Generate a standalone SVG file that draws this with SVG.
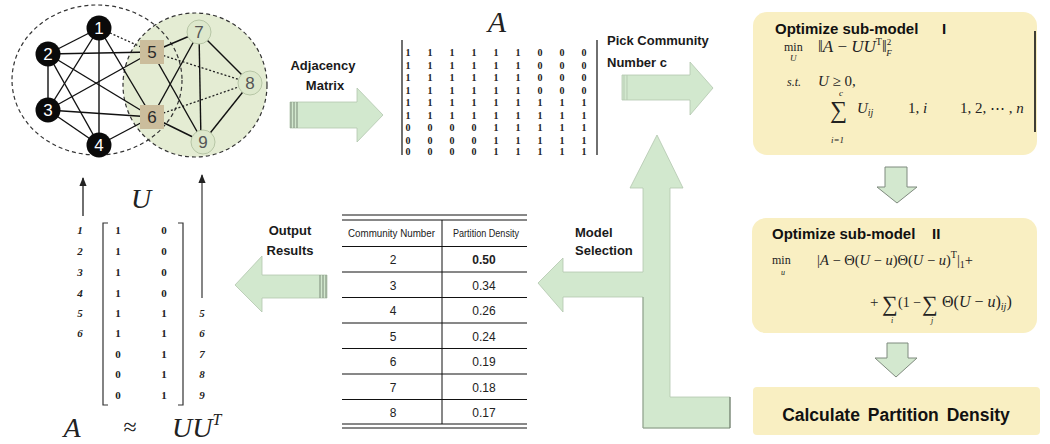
<svg xmlns="http://www.w3.org/2000/svg" width="1050" height="444" viewBox="0 0 1050 444">
<style>
.lbl{font-family:"Liberation Sans",Arial,sans-serif;font-weight:bold;font-size:13px;fill:#1a1a1a}
.ttl{font-family:"Liberation Sans",Arial,sans-serif;font-weight:bold;font-size:15px;fill:#111}
.m{font-family:"Liberation Serif","Times New Roman",serif;fill:#222}
.i{font-style:italic}
.edge{stroke:#111;stroke-width:1.4;fill:none}
.dot{stroke:#222;stroke-width:1.3;stroke-dasharray:2 2;fill:none}
.arr{fill:#d2e8ce;stroke:#b3c7ae;stroke-width:0.8}
.darr{fill:#d3e8cf;stroke:#7f8a7e;stroke-width:1}
.box{fill:#f9efc2}
.tl{stroke:#111;stroke-width:1}
.tx{font-family:"Liberation Sans",Arial,sans-serif;fill:#222}
.nb{fill:#0a0a0a}
.nbt{font-family:"Liberation Sans",Arial,sans-serif;font-size:17px;fill:#fff;text-anchor:middle}
.ns{fill:#cbbd9c}
.nst{font-family:"Liberation Sans",Arial,sans-serif;font-size:17px;fill:#2a2a2a;text-anchor:middle}
.ng{fill:#dde8cc;stroke:#b7c6a6;stroke-width:1}
.ngt{font-family:"Liberation Sans",Arial,sans-serif;font-size:17px;fill:#555;text-anchor:middle}
.ma{font-family:"Liberation Serif","Times New Roman",serif;font-size:10px;font-weight:bold;fill:#222;text-anchor:middle}
.mu{font-family:"Liberation Serif","Times New Roman",serif;font-size:11px;font-weight:bold;fill:#222;text-anchor:middle}
.mul{font-family:"Liberation Serif","Times New Roman",serif;font-size:11px;font-weight:bold;font-style:italic;fill:#222;text-anchor:middle}
.stripe{stroke:#7a8a78;stroke-width:1}
</style>
<defs>
<marker id="ah" viewBox="0 0 10 10" refX="9" refY="5" markerWidth="7" markerHeight="7" orient="auto">
<path d="M0,1 L10,5 L0,9 z" fill="#222"/>
</marker>
</defs>
<rect width="1050" height="444" fill="#fff"/>

<!-- community circles -->
<g id="communities">
<circle cx="195" cy="85" r="72" fill="#e4ecd3"/>
<ellipse cx="97" cy="80" rx="85" ry="75" fill="none" stroke="#333" stroke-width="1.2" stroke-dasharray="4 3"/>
<circle cx="195" cy="85" r="72" fill="none" stroke="#333" stroke-width="1.2" stroke-dasharray="4 3"/>
</g>

<g id="connectors">
<!-- graph edges -->
<line class="edge" x1="99" y1="28" x2="48" y2="54"/>
<line class="edge" x1="99" y1="28" x2="48" y2="110"/>
<line class="edge" x1="99" y1="28" x2="99" y2="145"/>
<line class="dot" x1="99" y1="28" x2="152" y2="52"/>
<line class="edge" x1="99" y1="28" x2="152" y2="117"/>
<line class="edge" x1="48" y1="54" x2="48" y2="110"/>
<line class="edge" x1="48" y1="54" x2="99" y2="145"/>
<line class="edge" x1="48" y1="54" x2="152" y2="52"/>
<line class="edge" x1="48" y1="54" x2="152" y2="117"/>
<line class="edge" x1="48" y1="110" x2="99" y2="145"/>
<line class="edge" x1="48" y1="110" x2="152" y2="52"/>
<line class="edge" x1="48" y1="110" x2="152" y2="117"/>
<line class="edge" x1="99" y1="145" x2="152" y2="117"/>
<line class="edge" x1="152" y1="52" x2="199" y2="32"/>
<line class="dot" x1="152" y1="52" x2="250" y2="83"/>
<line class="edge" x1="152" y1="52" x2="203" y2="142"/>
<line class="edge" x1="152" y1="117" x2="199" y2="32"/>
<line class="dot" x1="152" y1="117" x2="250" y2="83"/>
<line class="edge" x1="152" y1="117" x2="203" y2="142"/>
<line class="edge" x1="199" y1="32" x2="250" y2="83"/>
<line class="edge" x1="199" y1="32" x2="201" y2="142"/>
<line class="edge" x1="250" y1="83" x2="203" y2="142"/>

<!-- U arrows -->
<line x1="83" y1="216" x2="83" y2="178" stroke="#222" stroke-width="1.3" marker-end="url(#ah)"/>
<line x1="202" y1="298" x2="202" y2="175" stroke="#444" stroke-width="1.3" marker-end="url(#ah)"/>

<!-- Adjacency Matrix arrow -->
<polygon class="arr" points="290,102 357,102 357,88 383,115 357,142 357,128 290,128"/>
<line class="stripe" x1="291" y1="102" x2="291" y2="128"/>
<line class="stripe" x1="294" y1="102" x2="294" y2="128"/>
<line class="stripe" x1="297" y1="102" x2="297" y2="128"/>

<!-- Pick community arrow -->
<polygon class="arr" points="622,75 690,75 690,62 713,88 690,115 690,100 622,100"/>
<line x1="624" y1="75" x2="624" y2="100" stroke="#b7cbb3" stroke-width="1"/>
<line x1="627" y1="75" x2="627" y2="100" stroke="#b7cbb3" stroke-width="1"/>

<!-- Model selection + loop arrow -->
<polygon class="arr" points="538,283 563,258 563,272 643,272 643,188 630,188 657,135 683,188 670,188 670,397 730,397 730,428 643,428 643,297 563,297 563,312"/>
<line x1="643" y1="297" x2="643" y2="428" stroke="#8e9e8b" stroke-width="1"/>
<line x1="643" y1="428" x2="730" y2="428" stroke="#8e9e8b" stroke-width="1"/>
<line x1="730" y1="397" x2="730" y2="428" stroke="#5e6a5c" stroke-width="1"/>

<!-- Output results arrow -->
<polygon class="arr" points="235,285 262,256 262,275 327,275 327,298 262,298 262,312"/>
<line class="stripe" x1="320" y1="275" x2="320" y2="298"/>
<line class="stripe" x1="323" y1="275" x2="323" y2="298"/>
<line class="stripe" x1="326" y1="275" x2="326" y2="298"/>

<!-- down arrows -->
<polygon class="darr" points="885,167 907,167 907,187 917,187 897,203 877,187 885,187"/>
<polygon class="darr" points="887,343 908,343 908,358 917,358 896,377 875,358 887,358"/>
</g>

<!-- graph nodes -->
<g id="n1"><circle class="nb" cx="99" cy="28" r="12.5"/><text class="nbt" x="99" y="34">1</text></g>
<g id="n2"><circle class="nb" cx="48" cy="54" r="12.5"/><text class="nbt" x="48" y="60">2</text></g>
<g id="n3"><circle class="nb" cx="48" cy="110" r="12.5"/><text class="nbt" x="48" y="116">3</text></g>
<g id="n4"><circle class="nb" cx="99" cy="145" r="12.5"/><text class="nbt" x="99" y="151">4</text></g>
<g id="n5"><rect class="ns" x="140" y="40" width="24" height="24"/><text class="nst" x="152" y="58">5</text></g>
<g id="n6"><rect class="ns" x="140" y="105" width="24" height="24"/><text class="nst" x="152" y="123">6</text></g>
<g id="n7"><circle class="ng" cx="199" cy="32" r="12"/><text class="ngt" x="199" y="38">7</text></g>
<g id="n8"><circle class="ng" cx="250" cy="83" r="12"/><text class="ngt" x="250" y="89">8</text></g>
<g id="n9"><circle class="ng" cx="203" cy="142" r="12"/><text class="ngt" x="203" y="148">9</text></g>

<!-- arrow labels -->
<g id="lbl-adj">
<text class="lbl" x="323" y="70" text-anchor="middle">Adjacency</text>
<text class="lbl" x="325" y="90" text-anchor="middle">Matrix</text>
</g>
<g id="lbl-pick">
<text class="lbl" x="607" y="45">Pick Community</text>
<text class="lbl" x="607" y="67">Number c</text>
</g>
<g id="lbl-model">
<text class="lbl" x="575" y="237">Model</text>
<text class="lbl" x="575" y="255">Selection</text>
</g>
<g id="lbl-output">
<text class="lbl" x="290" y="235" text-anchor="middle">Output</text>
<text class="lbl" x="290" y="255" text-anchor="middle">Results</text>
</g>

<!-- adjacency matrix A -->
<g id="matrixA">
<text class="m i" x="497" y="32" font-size="30" text-anchor="middle">A</text>
<line x1="402" y1="40" x2="402" y2="155" stroke="#222" stroke-width="1.3"/>
<line x1="597" y1="40" x2="597" y2="155" stroke="#222" stroke-width="1.3"/>
<g class="ma">
<text y="56"><tspan x="408">1</tspan><tspan x="430">1</tspan><tspan x="452">1</tspan><tspan x="474">1</tspan><tspan x="496">1</tspan><tspan x="518">1</tspan><tspan x="540">0</tspan><tspan x="562">0</tspan><tspan x="584">0</tspan></text>
<text y="68.5"><tspan x="408">1</tspan><tspan x="430">1</tspan><tspan x="452">1</tspan><tspan x="474">1</tspan><tspan x="496">1</tspan><tspan x="518">1</tspan><tspan x="540">0</tspan><tspan x="562">0</tspan><tspan x="584">0</tspan></text>
<text y="81"><tspan x="408">1</tspan><tspan x="430">1</tspan><tspan x="452">1</tspan><tspan x="474">1</tspan><tspan x="496">1</tspan><tspan x="518">1</tspan><tspan x="540">0</tspan><tspan x="562">0</tspan><tspan x="584">0</tspan></text>
<text y="93.5"><tspan x="408">1</tspan><tspan x="430">1</tspan><tspan x="452">1</tspan><tspan x="474">1</tspan><tspan x="496">1</tspan><tspan x="518">1</tspan><tspan x="540">0</tspan><tspan x="562">0</tspan><tspan x="584">0</tspan></text>
<text y="106"><tspan x="408">1</tspan><tspan x="430">1</tspan><tspan x="452">1</tspan><tspan x="474">1</tspan><tspan x="496">1</tspan><tspan x="518">1</tspan><tspan x="540">1</tspan><tspan x="562">1</tspan><tspan x="584">1</tspan></text>
<text y="118.5"><tspan x="408">1</tspan><tspan x="430">1</tspan><tspan x="452">1</tspan><tspan x="474">1</tspan><tspan x="496">1</tspan><tspan x="518">1</tspan><tspan x="540">1</tspan><tspan x="562">1</tspan><tspan x="584">1</tspan></text>
<text y="131"><tspan x="408">0</tspan><tspan x="430">0</tspan><tspan x="452">0</tspan><tspan x="474">0</tspan><tspan x="496">1</tspan><tspan x="518">1</tspan><tspan x="540">1</tspan><tspan x="562">1</tspan><tspan x="584">1</tspan></text>
<text y="143.5"><tspan x="408">0</tspan><tspan x="430">0</tspan><tspan x="452">0</tspan><tspan x="474">0</tspan><tspan x="496">1</tspan><tspan x="518">1</tspan><tspan x="540">1</tspan><tspan x="562">1</tspan><tspan x="584">1</tspan></text>
<text y="155"><tspan x="408">0</tspan><tspan x="430">0</tspan><tspan x="452">0</tspan><tspan x="474">0</tspan><tspan x="496">1</tspan><tspan x="518">1</tspan><tspan x="540">1</tspan><tspan x="562">1</tspan><tspan x="584">1</tspan></text>
</g>
</g>

<!-- sub-model I -->
<g id="submodel1">
<rect class="box" x="753" y="12" width="284" height="143" rx="14"/>
<line x1="1035" y1="31" x2="1035" y2="132" stroke="#111" stroke-width="1.6"/>
<text class="ttl" x="775" y="34">Optimize sub-model</text>
<text class="ttl" x="942" y="34">I</text>
<text class="m" x="784" y="51" font-size="12">min</text>
<text class="m i" x="790" y="61" font-size="9">U</text>
<text class="m" x="818" y="52" font-size="17">‖<tspan class="i">A</tspan> − <tspan class="i">UU</tspan><tspan font-size="10" dy="-7">T</tspan><tspan dy="7">‖</tspan><tspan font-size="9" dy="-7">2</tspan><tspan font-size="9" dx="-5" dy="11" class="i">F</tspan></text>
<text class="m i" x="787" y="86" font-size="12">s.t.</text>
<text class="m" x="818" y="86" font-size="15"><tspan class="i">U</tspan> ≥ 0,</text>
<text class="m" x="830" y="118" font-size="24">∑</text>
<text class="m i" x="839" y="96" font-size="9">c</text>
<text class="m i" x="831" y="143" font-size="9">i=1</text>
<text class="m" x="857" y="113" font-size="15"><tspan class="i">U</tspan><tspan class="i" font-size="10" dy="3">ij</tspan></text>
<text class="m" x="908" y="113" font-size="15">1, <tspan class="i">i</tspan></text>
<text class="m" x="960" y="113" font-size="15">1, 2, ⋯ , <tspan class="i">n</tspan></text>
</g>

<!-- sub-model II -->
<g id="submodel2">
<rect class="box" x="752" y="218" width="285" height="115" rx="14"/>
<text class="ttl" x="772" y="239">Optimize sub-model</text>
<text class="ttl" x="932" y="239">II</text>
<text class="m" x="772" y="264" font-size="12">min</text>
<text class="m i" x="781" y="275" font-size="8">u</text>
<text class="m" x="817" y="265" font-size="14.5">|<tspan class="i">A</tspan> − Θ(<tspan class="i">U</tspan> − <tspan class="i">u</tspan>)Θ(<tspan class="i">U</tspan> − <tspan class="i">u</tspan>)<tspan font-size="10" dy="-7">T</tspan><tspan dy="7">|</tspan><tspan font-size="10" dy="3">1</tspan><tspan dy="-3">+</tspan></text>
<text class="m" x="870" y="307" font-size="15">+</text>
<text class="m" x="882" y="311" font-size="22">∑</text>
<text class="m i" x="891" y="323" font-size="8">i</text>
<text class="m" x="898" y="307" font-size="14">(1 −</text>
<text class="m" x="922" y="311" font-size="22">∑</text>
<text class="m i" x="931" y="323" font-size="8">j</text>
<text class="m" x="942" y="307" font-size="16">Θ(<tspan class="i">U</tspan> − <tspan class="i">u</tspan>)<tspan class="i" font-size="10" dy="3">ij</tspan><tspan dy="-3">)</tspan></text>
</g>

<!-- calculate partition density -->
<g id="calc">
<rect class="box" x="753" y="387" width="287" height="48" rx="4"/>
<text class="ttl" x="896" y="421" text-anchor="middle" style="font-size:17.5px" word-spacing="3">Calculate Partition Density</text>
</g>

<!-- table -->
<g id="table">
<line class="tl" x1="342" y1="215" x2="527" y2="215" stroke-width="2.2"/>
<line class="tl" x1="342" y1="220" x2="527" y2="220"/>
<line class="tl" x1="342" y1="246.5" x2="527" y2="246.5"/>
<line class="tl" x1="342" y1="272" x2="527" y2="272"/>
<line class="tl" x1="342" y1="297.5" x2="527" y2="297.5"/>
<line class="tl" x1="342" y1="323" x2="527" y2="323"/>
<line class="tl" x1="342" y1="348.5" x2="527" y2="348.5"/>
<line class="tl" x1="342" y1="374" x2="527" y2="374"/>
<line class="tl" x1="342" y1="399.5" x2="527" y2="399.5"/>
<line class="tl" x1="342" y1="424" x2="527" y2="424"/>
<line class="tl" x1="342" y1="428" x2="527" y2="428" stroke-width="2.2"/>
<line class="tl" x1="442" y1="220" x2="442" y2="424" stroke-width="1.3"/>
<text class="tx" x="348" y="237" font-size="10" textLength="87" lengthAdjust="spacingAndGlyphs">Community Number</text>
<text class="tx" x="453" y="237" font-size="10" textLength="66" lengthAdjust="spacingAndGlyphs">Partition Density</text>
<g class="tx" font-size="12" text-anchor="middle">
<text x="393" y="264">2</text><text x="484" y="264" font-weight="bold">0.50</text>
<text x="393" y="289.5">3</text><text x="484" y="289.5">0.34</text>
<text x="393" y="315">4</text><text x="484" y="315">0.26</text>
<text x="393" y="340.5">5</text><text x="484" y="340.5">0.24</text>
<text x="393" y="366">6</text><text x="484" y="366">0.19</text>
<text x="393" y="391.5">7</text><text x="484" y="391.5">0.18</text>
<text x="393" y="417">8</text><text x="484" y="417">0.17</text>
</g>
</g>

<!-- U matrix -->
<g id="matrixU">
<text class="m i" x="141" y="208" font-size="28" text-anchor="middle">U</text>
<path d="M108,223 H103 V405 H108" fill="none" stroke="#333" stroke-width="1.2"/>
<path d="M178,223 H183 V405 H178" fill="none" stroke="#333" stroke-width="1.2"/>
<g class="mul">
<text x="80" y="234">1</text><text x="80" y="255">2</text><text x="80" y="276">3</text><text x="80" y="297">4</text><text x="80" y="317">5</text><text x="80" y="337">6</text>
<text x="202" y="317">5</text><text x="202" y="337">6</text><text x="202" y="358">7</text><text x="202" y="378">8</text><text x="202" y="399">9</text>
</g>
<g class="mu">
<text x="118" y="234">1</text><text x="164" y="234">0</text>
<text x="118" y="255">1</text><text x="164" y="255">0</text>
<text x="118" y="276">1</text><text x="164" y="276">0</text>
<text x="118" y="297">1</text><text x="164" y="297">0</text>
<text x="118" y="317">1</text><text x="164" y="317">1</text>
<text x="118" y="337">1</text><text x="164" y="337">1</text>
<text x="118" y="358">0</text><text x="164" y="358">1</text>
<text x="118" y="378">0</text><text x="164" y="378">1</text>
<text x="118" y="399">0</text><text x="164" y="399">1</text>
</g>
<text class="m i" x="72" y="437" font-size="28" text-anchor="middle">A</text>
<text class="m" x="130" y="435" font-size="24" text-anchor="middle">≈</text>
<text class="m i" x="172" y="437" font-size="28">UU<tspan font-size="16" dy="-12">T</tspan></text>
</g>
</svg>
